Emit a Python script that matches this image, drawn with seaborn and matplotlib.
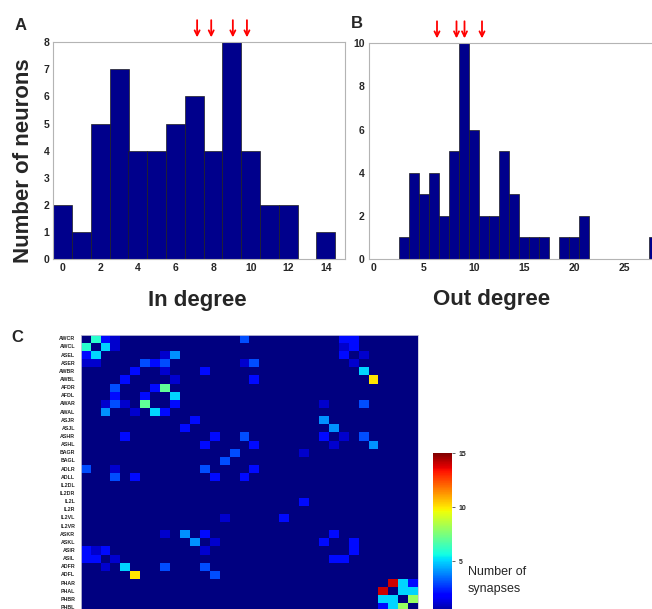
import numpy as np
import matplotlib.pyplot as plt
import seaborn as sns

# panel A: in-degree histogram
in_degree = list(range(15))
in_counts = [2, 1, 5, 7, 4, 4, 5, 6, 4, 8, 4, 2, 2, 0, 1]
in_arrows = [7.15, 7.9, 9.05, 9.8]

# panel B: out-degree histogram
out_degree = list(range(3, 22)) + [28]
out_counts = [1, 4, 3, 4, 2, 5, 10, 6, 2, 2, 5, 3, 1, 1, 1, 0, 1, 1, 2, 1]
out_arrows = [6.3, 8.25, 9.05, 10.8]

# panel C: synapse matrix (non-zero entries only)
neurons = ["AWCR", "AWCL", "ASEL", "ASER", "AWBR", "AWBL", "AFDR", "AFDL",
           "AWAR", "AWAL", "ASJR", "ASJL", "ASHR", "ASHL", "BAGR", "BAGL",
           "ADLR", "ADLL", "IL2DL", "IL2DR", "IL2L", "IL2R", "IL2VL", "IL2VR",
           "ASKR", "ASKL", "ASIR", "ASIL", "ADFR", "ADFL", "PHAR", "PHAL",
           "PHBR", "PHBL"]
syn_rows = [0, 0, 0, 0, 0, 0,
            1, 1, 1, 1, 1,
            2, 2, 2, 2, 2, 2,
            3, 3, 3, 3, 3, 3, 3, 3,
            4, 4, 4, 4,
            5, 5, 5, 5,
            6, 6, 6,
            7, 7, 7,
            8, 8, 8, 8, 8, 8, 8,
            9, 9, 9, 9,
            10, 10,
            11, 11,
            12, 12, 12, 12, 12, 12,
            13, 13, 13, 13,
            14, 14,
            15,
            16, 16, 16, 16,
            17, 17, 17, 17,
            20,
            22, 22,
            24, 24, 24, 24,
            25, 25, 25, 25,
            26, 26, 26, 26, 26,
            27, 27, 27, 27, 27,
            28, 28, 28, 28,
            29, 29,
            30, 30, 30,
            31, 31, 31,
            32, 32, 32,
            33, 33, 33]
syn_cols = [1, 2, 3, 16, 26, 27,
            0, 2, 3, 26, 27,
            0, 1, 8, 9, 26, 28,
            0, 1, 6, 7, 8, 16, 17, 27,
            5, 8, 12, 28,
            4, 9, 17, 29,
            3, 7, 8,
            3, 6, 9,
            2, 3, 4, 6, 9, 24, 28,
            2, 5, 7, 8,
            11, 24,
            10, 25,
            4, 13, 16, 24, 26, 28,
            12, 17, 25, 29,
            15, 22,
            14,
            0, 3, 12, 17,
            3, 5, 13, 16,
            22,
            14, 20,
            8, 10, 12, 25,
            11, 13, 24, 27,
            0, 1, 2, 12, 27,
            0, 1, 3, 25, 26,
            2, 4, 8, 12,
            5, 13,
            31, 32, 33,
            30, 32, 33,
            30, 31, 33,
            30, 31, 32]
syn_vals = [6, 2, 1, 3, 2, 2,
            6, 5, 1, 1, 2,
            2, 5, 1, 4, 2, 1,
            1, 1, 3, 2, 3, 1, 3, 1,
            2, 1, 2, 5,
            2, 1, 2, 10,
            3, 2, 7,
            2, 2, 5,
            1, 3, 1, 7, 2, 1, 3,
            4, 1, 5, 2,
            2, 4,
            2, 4,
            2, 2, 3, 2, 1, 3,
            2, 2, 1, 4,
            3, 1,
            3,
            3, 1, 3, 2,
            3, 2, 2, 2,
            2,
            1, 2,
            1, 4, 2, 2,
            4, 1, 2, 2,
            2, 1, 2, 1, 2,
            2, 2, 1, 2, 2,
            1, 5, 3, 3,
            10, 3,
            14, 5, 2,
            14, 5, 5,
            5, 5, 8,
            2, 5, 8]

mat = np.zeros((len(neurons), len(neurons)))
mat[syn_rows, syn_cols] = syn_vals

sns.set_style("white")
plt.rcParams["font.family"] = ["Liberation Sans", "DejaVu Sans"]

W, H = 652, 609
fig = plt.figure(figsize=(W / 100, H / 100), dpi=100)

def px(x0, y0, x1, y1):
    return [x0 / W, 1 - y1 / H, (x1 - x0) / W, (y1 - y0) / H]

bar_color = "#00008c"

def style_hist(ax):
    for s in ax.spines.values():
        s.set_color("#b4b4b4")
        s.set_linewidth(0.8)
    ax.tick_params(direction="in", length=3, color="#b4b4b4", labelsize=7.5, pad=3)
    for lab in ax.get_xticklabels() + ax.get_yticklabels():
        lab.set_fontweight("bold")
    ax.set_xlabel("")
    ax.set_ylabel("")

def add_arrows(ax, xs):
    for x in xs:
        ax.annotate("", xy=(x, 1.01), xycoords=("data", "axes fraction"),
                    xytext=(x, 1.115), textcoords=("data", "axes fraction"),
                    arrowprops=dict(arrowstyle="->", color="red", lw=1.3,
                                    mutation_scale=9),
                    annotation_clip=False)

# A
ax_a = fig.add_axes(px(53.3, 42.3, 344.7, 259))
sns.histplot(x=in_degree, weights=in_counts, discrete=True, color=bar_color,
             alpha=1, edgecolor="#202020", linewidth=0.5, ax=ax_a)
ax_a.set_xlim(-0.5, 15)
ax_a.set_ylim(0, 8)
ax_a.set_xticks(range(0, 15, 2))
ax_a.set_yticks(range(0, 9))
style_hist(ax_a)
add_arrows(ax_a, in_arrows)

# B
ax_b = fig.add_axes(px(369, 43.3, 674, 259))
sns.histplot(x=out_degree, weights=out_counts, discrete=True, color=bar_color,
             alpha=1, edgecolor="#202020", linewidth=0.5, ax=ax_b)
ax_b.set_xlim(-0.5, 30)
ax_b.set_ylim(0, 10)
ax_b.set_xticks(range(0, 30, 5))
ax_b.set_yticks(range(0, 11, 2))
style_hist(ax_b)
add_arrows(ax_b, out_arrows)

fig.text(24 / W, 1 - 161 / H, "Number of neurons", rotation=90, ha="center",
         va="center", fontsize=16, fontweight="bold")
fig.text(197 / W, 1 - 301 / H, "In degree", ha="center", va="center",
         fontsize=16, fontweight="bold")
fig.text(492 / W, 1 - 299 / H, "Out degree", ha="center", va="center",
         fontsize=16, fontweight="bold")

for lbl, x, y in [("A", 21, 25), ("B", 357, 24), ("C", 17, 338)]:
    fig.text(x / W, 1 - y / H, lbl, ha="center", va="center", fontsize=12,
             fontweight="bold")

# C
ax_c = fig.add_axes(px(80.7, 334.7, 418.2, 611.5))
cax = fig.add_axes(px(433, 453, 452, 615))
sns.heatmap(mat, cmap="jet", vmin=0, vmax=15, ax=ax_c, cbar_ax=cax,
            xticklabels=False, yticklabels=neurons,
            cbar_kws={"ticks": [5, 10, 15]})
ax_c.tick_params(axis="y", length=0, labelsize=3.8, pad=4)
for lab in ax_c.get_yticklabels():
    lab.set_fontweight("bold")
    lab.set_rotation(0)
for s in ax_c.spines.values():
    s.set_visible(True)
    s.set_color("#c8c8dc")
    s.set_linewidth(0.6)
cax.tick_params(labelsize=5, length=2, width=0.5, pad=3)
cax.set_yticklabels(["5", "10", "15"], fontweight="bold")

fig.text(468 / W, 1 - 572 / H, "Number of", ha="left", va="center", fontsize=9)
fig.text(468 / W, 1 - 589 / H, "synapses", ha="left", va="center", fontsize=9)

fig.savefig("out.png", dpi=100)
